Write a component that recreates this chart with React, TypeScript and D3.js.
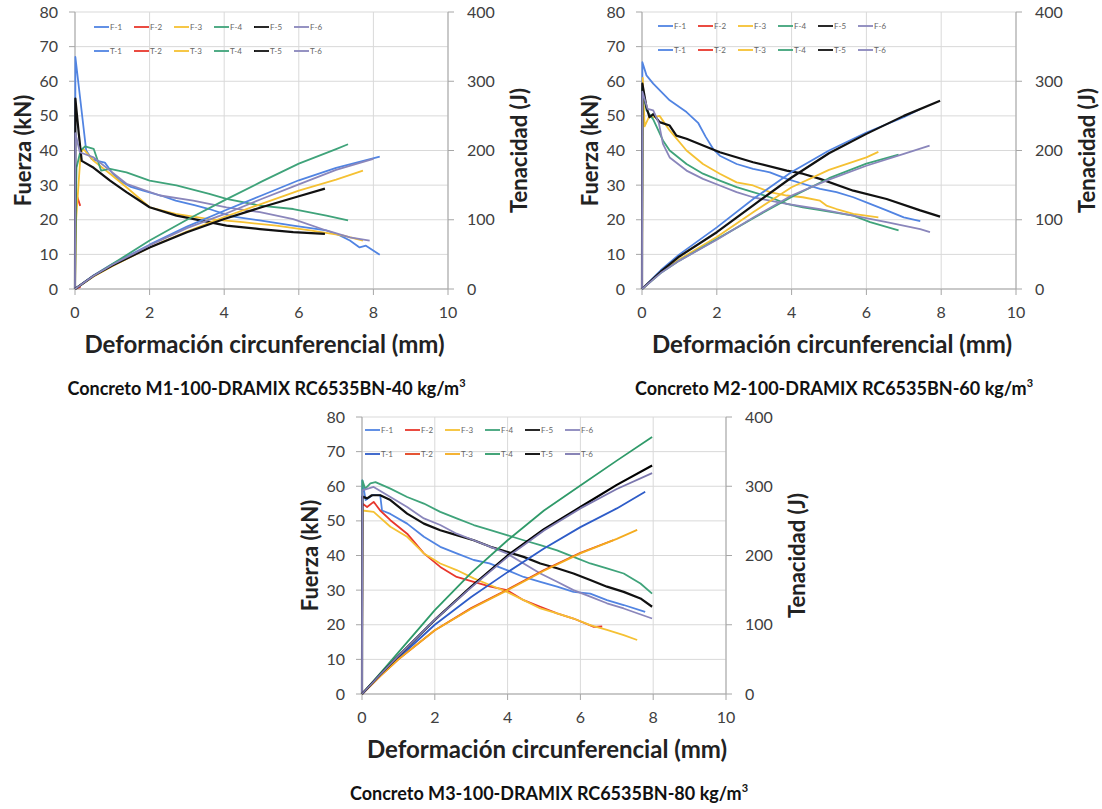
import React from "react";
import * as d3 from "d3";

type Pt = [number, number];

const xTicks = [0, 2, 4, 6, 8, 10];
const forceTicks = [0, 10, 20, 30, 40, 50, 60, 70, 80];
const toughTicks = [0, 100, 200, 300, 400];
const seriesIds = ["1", "2", "3", "4", "5", "6"];
const xTitle = "Deformación circunferencial (mm)";
const yLeftTitle = "Fuerza (kN)";
const yRightTitle = "Tenacidad (J)";
const captionTexts = [
  "Concreto M1-100-DRAMIX RC6535BN-40 kg/m",
  "Concreto M2-100-DRAMIX RC6535BN-60 kg/m",
  "Concreto M3-100-DRAMIX RC6535BN-80 kg/m",
];

const fColors = ["#5184e2", "#e8372c", "#f5c133", "#3fa37a", "#111111", "#8a86bb"];
const tColorsDark = ["#2e5cc8", "#e2411c", "#f4ab1e", "#2f9a69", "#000000", "#7b77ae"];

// ---------- M1 (40 kg/m3) ----------
const m1F1: Pt[] = [[0,0],[0.01,67],[0.3,40],[0.45,37.5],[0.6,37],[0.8,36.5],[1.0,33.5],[1.2,31.3],[1.5,29.5],[1.83,28.4],[2.3,27],[2.7,25.5],[3.2,24.2],[3.6,23.1],[4.2,21],[4.95,19.8],[5.85,18.3],[6.74,16.9],[7.1,15.5],[7.37,14],[7.63,12],[7.8,12.5],[8.17,9.9]];
const m1F2: Pt[] = [[0.02,28],[0.08,26],[0.14,24]];
const m1F3: Pt[] = [[0,0],[0.03,20],[0.15,39],[0.22,40.5],[0.5,37],[0.94,33.3],[1.38,29.4],[2.0,23.6],[2.7,21.7],[3.6,20.2],[4.5,19.3],[5.4,18.3],[6.3,16.9],[7.2,15.4],[7.72,14]];
const m1F4: Pt[] = [[0,0],[0.02,22],[0.04,35],[0.15,40],[0.27,41.2],[0.5,40.5],[0.7,34.2],[0.94,34.7],[1.38,33.7],[2.0,31.3],[2.72,29.9],[3.6,27.5],[4.06,26],[4.96,24.1],[5.85,23.1],[6.74,21.2],[7.32,19.8]];
const m1F5: Pt[] = [[0,0],[0.01,55],[0.1,45],[0.18,37],[0.5,35],[0.94,31.3],[1.38,28],[2.0,23.6],[2.72,21.2],[3.6,19.3],[4.06,18.3],[4.96,17.3],[5.85,16.4],[6.7,15.9]];
const m1F6: Pt[] = [[0,0],[0.01,45],[0.13,39.5],[0.5,38],[0.94,34.2],[1.38,30.4],[2.28,27],[3.17,25.5],[4.06,23.6],[4.96,22.2],[5.85,20.2],[6.74,16.9],[7.37,14.9],[7.9,14]];
const m1T1: Pt[] = [[0,0],[0.5,20],[1,36],[2,64],[3,90],[4,113],[5,135],[6,157],[7,175],[8.17,191]];
const m1T2: Pt[] = [[0,0],[0.15,3]];
const m1T3: Pt[] = [[0,0],[0.5,18],[1,33],[2,60],[3,83],[4,104],[5,123],[6,142],[7,158],[7.72,171]];
const m1T4: Pt[] = [[0,0],[0.5,19],[1,36],[2,70],[3,100],[4,128],[5,155],[6,181],[7,202],[7.32,209]];
const m1T5: Pt[] = [[0,0],[0.5,19],[1,34],[2,60],[3,82],[4,101],[5,118],[6,134],[6.7,145]];
const m1T6: Pt[] = [[0,0],[0.5,19],[1,35],[2,63],[3,88],[4,108],[5,130],[6,151],[7,172],[8.0,188]];

// ---------- M2 (60 kg/m3) ----------
const m2F1: Pt[] = [[0,0],[0.01,65.5],[0.12,61.7],[0.3,59.3],[0.74,54.5],[1.19,51.1],[1.5,48],[1.7,44],[1.9,40.5],[2.08,38.5],[2.53,36.1],[2.97,34.7],[3.42,33.7],[3.87,31.8],[4.3,30.4],[4.76,28.9],[5.2,28],[5.65,26.5],[6.1,24.6],[6.54,22.7],[7.0,20.7],[7.44,19.6]];
const m2F2: Pt[] = [];
const m2F3: Pt[] = [[0,0],[0.02,61],[0.07,47],[0.2,50],[0.3,49.6],[0.47,50],[0.74,45.8],[1.19,40],[1.63,36.1],[2.08,33.3],[2.53,30.8],[2.97,29.9],[3.42,28],[3.87,27],[4.3,26.5],[4.76,25.5],[4.93,24.1],[5.2,23.1],[5.65,21.7],[6.32,20.7]];
const m2F4: Pt[] = [[0,0],[0.01,58],[0.12,51.6],[0.3,49],[0.56,42.9],[0.74,40],[1.19,36.1],[1.63,33.3],[2.08,31.3],[2.53,29.4],[2.97,28],[3.42,26.5],[3.87,24.6],[4.3,23.6],[4.76,22.8],[5.65,21.2],[6.1,19.3],[6.86,16.9]];
const m2F5: Pt[] = [[0,0],[0.01,59.3],[0.12,52.5],[0.2,49.6],[0.3,50.5],[0.47,48.2],[0.74,47.2],[0.92,44.3],[1.19,43.4],[2.08,39.5],[2.97,36.6],[3.87,34.2],[4.3,33.3],[4.76,31.8],[5.65,28.4],[6.54,26],[7.44,22.7],[7.97,20.9]];
const m2F6: Pt[] = [[0,0],[0.01,57],[0.15,52],[0.3,51.6],[0.45,48],[0.56,41.9],[0.74,38],[1.19,34.2],[1.63,31.8],[2.08,29.9],[2.53,28],[2.97,26.5],[3.42,25.5],[3.87,24.6],[4.76,23.1],[5.65,21.2],[6.54,19.3],[7.44,17.3],[7.7,16.4]];
const m2T1: Pt[] = [[0,0],[0.5,27],[1,50],[2,89],[3,131],[4,169],[5,200],[6,226],[7,248],[7.44,260]];
const m2T2: Pt[] = [];
const m2T3: Pt[] = [[0,0],[0.5,24],[1,43],[2,75],[3,112],[4,147],[5,172],[6,190],[6.32,198]];
const m2T4: Pt[] = [[0,0],[0.5,23],[1,41],[2,72],[3,103],[4,133],[5,160],[6,181],[6.86,194]];
const m2T5: Pt[] = [[0,0],[0.5,25],[1,47],[2,82],[3,122],[4,161],[5,196],[6,224],[7,250],[7.97,272]];
const m2T6: Pt[] = [[0,0],[0.5,23],[1,41],[2,71],[3,104],[4,135],[5,158],[6,178],[7,195],[7.69,207]];

// ---------- M3 (80 kg/m3) ----------
const m3F1: Pt[] = [[0,0],[0.01,61.7],[0.1,56],[0.3,57.5],[0.5,57.4],[0.55,53],[0.78,52],[1.24,49.2],[1.7,45.4],[2.15,42.5],[2.6,40.6],[3.07,38.7],[3.5,37.7],[3.98,35.8],[4.44,33.8],[4.9,32.4],[5.36,31],[5.81,29.5],[6.27,29],[6.73,27.1],[7.19,25.7],[7.78,23.7]];
const m3F2: Pt[] = [[0,0],[0.01,55],[0.14,54],[0.32,55.5],[0.5,53],[0.78,50.2],[1.24,46.3],[1.7,40.6],[2.15,36.7],[2.6,33.8],[3.07,32.4],[3.53,31],[3.98,30],[4.44,27.1],[4.9,25.2],[5.36,23.3],[5.81,21.8],[6.37,19.4],[6.6,19.5]];
const m3F3: Pt[] = [[0,0],[0.01,53],[0.32,52.6],[0.78,48.3],[1.24,45.4],[1.7,40.6],[2.15,37.7],[2.6,35.8],[3.07,33.4],[3.53,31.4],[3.98,29.5],[4.44,27.1],[4.9,24.7],[5.36,23.3],[5.81,21.8],[6.27,19.9],[6.73,18.5],[7.19,17],[7.56,15.6]];
const m3F4: Pt[] = [[0,0],[0.01,61.7],[0.09,59.3],[0.23,60.8],[0.37,61.2],[0.78,59.3],[1.24,56.9],[1.7,55],[2.15,52.6],[2.6,50.7],[3.07,48.8],[3.53,47.3],[3.98,45.9],[4.44,44.4],[4.9,43],[5.36,41.5],[5.81,39.6],[6.27,37.7],[6.73,36.3],[7.19,34.8],[7.65,31.9],[7.97,29]];
const m3F5: Pt[] = [[0,0],[0.01,57],[0.14,56.5],[0.27,57.4],[0.5,57.4],[0.78,56],[1.24,52.1],[1.7,49.2],[2.15,47.3],[2.6,45.9],[3.07,44.4],[3.53,42.5],[3.98,41.1],[4.44,39.6],[4.9,37.7],[5.36,36.3],[5.81,34.8],[6.27,32.9],[6.73,31],[7.19,29.5],[7.65,27.6],[7.97,25.2]];
const m3F6: Pt[] = [[0,0],[0.01,58.8],[0.32,59.8],[0.78,56.9],[1.24,54],[1.7,50.7],[2.15,48.8],[2.6,46.3],[3.07,44.4],[3.53,42.5],[3.98,40.6],[4.44,37.7],[4.9,34.8],[5.36,32.4],[5.81,30],[6.27,28.1],[6.73,26.2],[7.19,24.7],[7.97,21.8]];
const m3T1: Pt[] = [[0,0],[0.5,27],[1,52],[2,100],[3,140],[4,176],[5,210],[6,241],[7,268],[7.78,292]];
const m3T2: Pt[] = [[0,0],[0.5,26],[1,50],[2,92],[3,124],[4,151],[5,179],[6,204],[6.9,222]];
const m3T3: Pt[] = [[0,0],[0.5,26],[1,50],[2,92],[3,123],[4,150],[5,178],[6,203],[7,224],[7.56,237]];
const m3T4: Pt[] = [[0,0],[0.5,30],[1,60],[2,121],[3,175],[4,222],[5,265],[6,301],[7,337],[7.97,371]];
const m3T5: Pt[] = [[0,0],[0.5,28],[1,55],[2,107],[3,155],[4,200],[5,238],[6,270],[7,302],[7.97,330]];
const m3T6: Pt[] = [[0,0],[0.5,28],[1,55],[2,107],[3,154],[4,198],[5,236],[6,268],[7,296],[7.97,319]];

interface Geo { left: number; right: number; top: number; bottom: number; legendX: number; legendY: number; }

const FONT = "Lato, 'Open Sans', sans-serif";

function Panel({ g, F, T, fCol, tCol, caption }: { g: Geo; F: Pt[][]; T: Pt[][]; fCol: string[]; tCol: string[]; caption: string }) {
  const x = d3.scaleLinear().domain([0, 10]).range([g.left, g.right]);
  const yF = d3.scaleLinear().domain([0, 80]).range([g.bottom, g.top]);
  const yT = d3.scaleLinear().domain([0, 400]).range([g.bottom, g.top]);
  const lineF = d3.line<Pt>().x((d) => x(d[0])).y((d) => yF(d[1]));
  const lineT = d3.line<Pt>().x((d) => x(d[0])).y((d) => yT(d[1]));
  const midY = (g.top + g.bottom) / 2;
  const midX = (g.left + g.right) / 2;
  const axisCol = "#a6a6a6";
  const gridCol = "#d9d9d9";
  return (
    <g>
      {forceTicks.map((t) => (
        <line key={"gy" + t} x1={g.left} x2={g.right} y1={yF(t)} y2={yF(t)} stroke={gridCol} strokeWidth={1} />
      ))}
      {xTicks.map((t) => (
        <line key={"gx" + t} x1={x(t)} x2={x(t)} y1={g.top} y2={g.bottom} stroke={gridCol} strokeWidth={1} />
      ))}
      <line x1={g.left} x2={g.left} y1={g.top} y2={g.bottom} stroke={axisCol} />
      <line x1={g.right} x2={g.right} y1={g.top} y2={g.bottom} stroke={axisCol} />
      <line x1={g.left} x2={g.right} y1={g.bottom} y2={g.bottom} stroke={axisCol} />
      {forceTicks.map((t) => (
        <g key={"lt" + t}>
          <line x1={g.left - 6} x2={g.left} y1={yF(t)} y2={yF(t)} stroke={axisCol} />
          <text x={g.left - 17} y={yF(t)} dy="0.35em" textAnchor="end" fontSize={16} fill="#404040" fontFamily={FONT}>{t}</text>
        </g>
      ))}
      {toughTicks.map((t) => (
        <g key={"rt" + t}>
          <line x1={g.right} x2={g.right + 6} y1={yT(t)} y2={yT(t)} stroke={axisCol} />
          <text x={g.right + 19} y={yT(t)} dy="0.35em" textAnchor="start" fontSize={16} fill="#404040" fontFamily={FONT}>{t}</text>
        </g>
      ))}
      {xTicks.map((t) => (
        <g key={"bt" + t}>
          <line x1={x(t)} x2={x(t)} y1={g.bottom} y2={g.bottom + 6} stroke={axisCol} />
          <text x={x(t)} y={g.bottom + 29} textAnchor="middle" fontSize={16} fill="#404040" fontFamily={FONT}>{t}</text>
        </g>
      ))}
      <text transform={`translate(${g.left - 52},${midY}) rotate(-90)`} textAnchor="middle" dy="0.35em" fontSize={22} fontWeight="bold" fill="#222" fontFamily={FONT}>{yLeftTitle}</text>
      <text transform={`translate(${g.right + 71},${midY}) rotate(-90)`} textAnchor="middle" dy="0.35em" fontSize={22} fontWeight="bold" fill="#222" fontFamily={FONT}>{yRightTitle}</text>
      <text x={midX + 3} y={g.bottom + 64} textAnchor="middle" fontSize={24} fontWeight="bold" fill="#222" fontFamily={FONT}>{xTitle}</text>
      <text x={midX + 5} y={g.bottom + 106} textAnchor="middle" fontSize={18} fontWeight="bold" fill="#111" fontFamily={FONT}>
        {caption}
        <tspan dy={-8} fontSize={11}>3</tspan>
      </text>
      {F.map((s, i) => s.length ? <path key={"f" + i} d={lineF(s) || ""} fill="none" stroke={fCol[i]} strokeWidth={i === 4 ? 2.2 : 1.8} strokeLinejoin="round" /> : null)}
      {T.map((s, i) => s.length ? <path key={"t" + i} d={lineT(s) || ""} fill="none" stroke={tCol[i]} strokeWidth={i === 4 ? 2.2 : 1.8} strokeLinejoin="round" /> : null)}
      {seriesIds.map((id, i) => (
        <g key={"lg" + id}>
          <line x1={g.legendX + i * 40} x2={g.legendX + i * 40 + 15} y1={g.legendY} y2={g.legendY} stroke={fCol[i]} strokeWidth={1.8} />
          <text x={g.legendX + i * 40 + 16} y={g.legendY} dy="0.35em" fontSize={8} fill="#666" fontFamily={FONT}>{"F-" + id}</text>
          <line x1={g.legendX + i * 40} x2={g.legendX + i * 40 + 15} y1={g.legendY + 24} y2={g.legendY + 24} stroke={tCol[i]} strokeWidth={1.8} />
          <text x={g.legendX + i * 40 + 16} y={g.legendY + 24} dy="0.35em" fontSize={8} fill="#666" fontFamily={FONT}>{"T-" + id}</text>
        </g>
      ))}
    </g>
  );
}

const geo1: Geo = { left: 75, right: 448, top: 12, bottom: 289, legendX: 94, legendY: 27 };
const geo2: Geo = { left: 642, right: 1016, top: 12, bottom: 289, legendX: 658, legendY: 26 };
const geo3: Geo = { left: 362, right: 726, top: 417, bottom: 694, legendX: 365, legendY: 430 };

export default function App() {
  return (
    <svg width={1102} height={809} style={{ position: "absolute", left: 0, top: 0, background: "#fff" }}>
      <rect x={0} y={0} width={1102} height={809} fill="#fff" />
      <Panel g={geo1} F={[m1F1, m1F2, m1F3, m1F4, m1F5, m1F6]} T={[m1T1, m1T2, m1T3, m1T4, m1T5, m1T6]} fCol={fColors} tCol={fColors} caption={captionTexts[0]} />
      <Panel g={geo2} F={[m2F1, m2F2, m2F3, m2F4, m2F5, m2F6]} T={[m2T1, m2T2, m2T3, m2T4, m2T5, m2T6]} fCol={fColors} tCol={fColors} caption={captionTexts[1]} />
      <Panel g={geo3} F={[m3F1, m3F2, m3F3, m3F4, m3F5, m3F6]} T={[m3T1, m3T2, m3T3, m3T4, m3T5, m3T6]} fCol={fColors} tCol={tColorsDark} caption={captionTexts[2]} />
    </svg>
  );
}
